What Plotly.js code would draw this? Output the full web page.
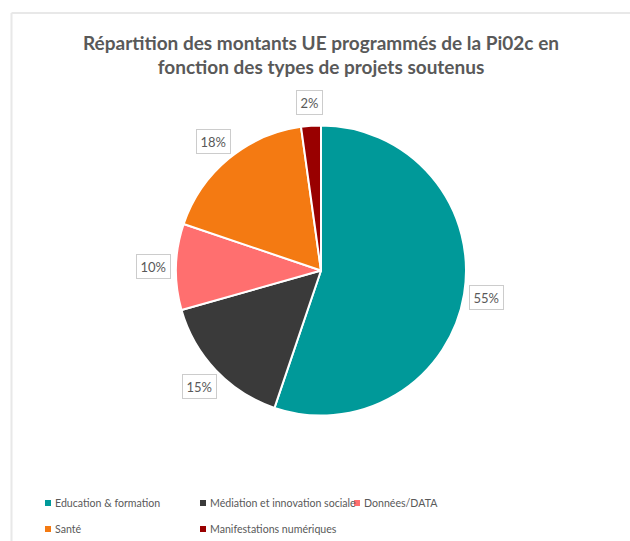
<!DOCTYPE html>
<html>
<head>
<meta charset="utf-8">
<script src="https://cdn.plot.ly/plotly-3.0.1.min.js"></script>
<style>html,body{margin:0;padding:0;background:#fff;} #chart{width:630px;height:541px;}</style>
</head>
<body>
<div id="chart"></div>
<script>
// ---- data ----
const categories = ["Education & formation", "Médiation et innovation sociale", "Données/DATA", "Santé", "Manifestations numériques"];
const shares = [55.2, 15.4, 9.6, 17.6, 2.2];
const colors = ["#009999", "#3a3a3a", "#ff6f6f", "#f47a12", "#990000"];
const titleText = "Répartition des montants UE programmés de la Pi02c en<br>fonction des types de projets soutenus";

// ---- layout constants ----
const W = 630, H = 541;
const cx = 321, cy = 270.5, R = 145;   // pie centre / radius in px
const labelR = 168;
const FONT = "Lato, 'Open Sans', sans-serif";
const GREY = "#595959";

const px = x => x / W;
const py = y => (H - y) / H;

const trace = {
  type: "pie",
  labels: categories,
  values: shares,
  sort: false,
  direction: "clockwise",
  rotation: 0,
  textinfo: "none",
  hoverinfo: "label+percent",
  marker: {colors: colors, line: {color: "#ffffff", width: 2}},
  domain: {x: [px(cx - R), px(cx + R)], y: [py(cy + R), py(cy - R)]},
  showlegend: false
};

// percentage labels placed at each slice's mid angle
const total = shares.reduce((a, b) => a + b, 0);
const annotations = [];
let cum = 0;
shares.forEach((v, i) => {
  const mid = (cum + v / 2) / total;
  cum += v;
  const th = 2 * Math.PI * mid;
  const x = cx + labelR * Math.sin(th);
  const y = cy - labelR * Math.cos(th);
  annotations.push({
    xref: "paper", yref: "paper", x: px(x), y: py(y),
    xanchor: "center", yanchor: "middle", showarrow: false,
    text: Math.round(v / total * 100) + "%",
    font: {family: FONT, size: 13, color: GREY},
    bgcolor: "#ffffff", bordercolor: "#cccccc", borderwidth: 1, borderpad: 3.5
  });
});

// manual legend (two rows, three columns like the original)
const legendCols = [45, 200, 354];
const legendRows = [503, 529];
const shapes = [];
categories.forEach((c, i) => {
  const col = legendCols[i % 3];
  const row = legendRows[Math.floor(i / 3)];
  shapes.push({type: "rect", xref: "paper", yref: "paper",
    x0: px(col), x1: px(col + 6), y0: py(row + 3), y1: py(row - 3),
    fillcolor: colors[i], line: {width: 0}});
  annotations.push({xref: "paper", yref: "paper", x: px(col + 8), y: py(row),
    xanchor: "left", yanchor: "middle", showarrow: false, text: c,
    font: {family: FONT, size: 10.6, color: GREY}});
});

// chart frame (left and top edges visible)
shapes.push({type: "line", xref: "paper", yref: "paper", x0: px(11.5), x1: px(11.5), y0: 0, y1: py(13), line: {color: "#e8e8e8", width: 2}});
shapes.push({type: "line", xref: "paper", yref: "paper", x0: px(11.5), x1: 1, y0: py(13), y1: py(13), line: {color: "#e8e8e8", width: 2}});

const layout = {
  width: W, height: H,
  margin: {l: 0, r: 0, t: 0, b: 0},
  paper_bgcolor: "#ffffff",
  title: {text: titleText, font: {family: FONT, size: 19, color: GREY, weight: "bold"},
    x: px(cx), xanchor: "center", y: py(49.5), yref: "container", yanchor: "middle"},
  annotations: annotations,
  shapes: shapes,
  showlegend: false
};

Plotly.newPlot("chart", [trace], layout, {displayModeBar: false, staticPlot: true});
</script>
</body>
</html>
